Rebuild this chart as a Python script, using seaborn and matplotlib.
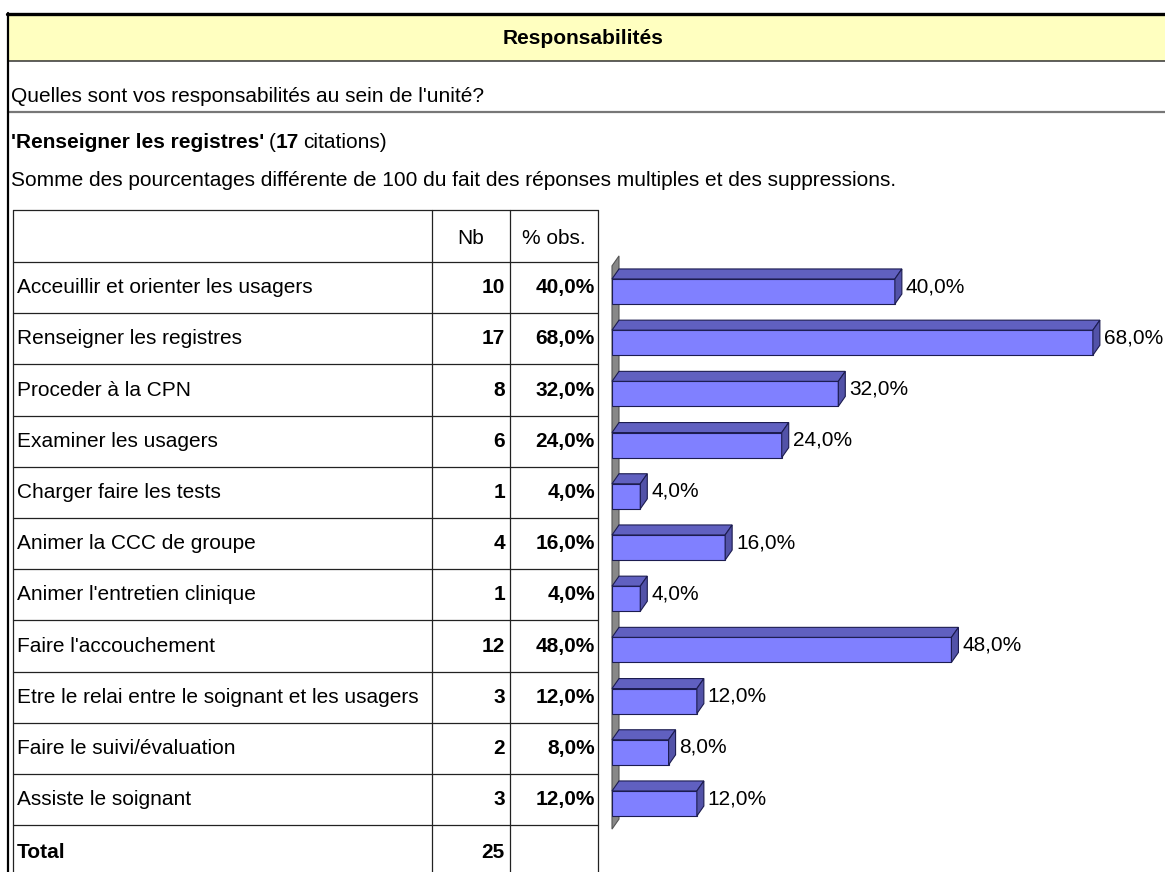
import matplotlib
matplotlib.use('Agg')
import matplotlib.pyplot as plt
import seaborn as sns
import numpy as np
from matplotlib.patches import Polygon, Rectangle

# donnees
categories = ['Acceuillir et orienter les usagers', 'Renseigner les registres', 'Proceder à la CPN',
              'Examiner les usagers', 'Charger faire les tests', 'Animer la CCC de groupe',
              "Animer l'entretien clinique", "Faire l'accouchement",
              'Etre le relai entre le soignant et les usagers', 'Faire le suivi/évaluation',
              'Assiste le soignant']
nb = [10, 17, 8, 6, 1, 4, 1, 12, 3, 2, 3]
pct_obs = [40.0, 68.0, 32.0, 24.0, 4.0, 16.0, 4.0, 48.0, 12.0, 8.0, 12.0]
total = 25
citations = 17
titre = 'Responsabilités'
question = "Quelles sont vos responsabilités au sein de l'unité?"
modalite = "'Renseigner les registres'"
note = 'Somme des pourcentages différente de 100 du fait des réponses multiples et des suppressions.'


def fmt(p):
    return f'{p:.1f}%'.replace('.', ',')


sns.set_style('white')
plt.rcParams['font.family'] = ['Liberation Sans Narrow', 'Liberation Sans', 'DejaVu Sans']
plt.rcParams['text.color'] = 'black'
fs = 15

W, H = 1165, 872
fig = plt.figure(figsize=(W / 100, H / 100), dpi=100)

# cadre en coordonnees pixel
fr = fig.add_axes([0, 0, 1, 1])
fr.set_xlim(0, W)
fr.set_ylim(H, 0)
fr.axis('off')

fr.add_patch(Rectangle((8, 15), W - 8, 46, facecolor='#FFFFC0', edgecolor='none'))
fr.plot([7, W], [14.5, 14.5], color='black', lw=2.4)
fr.plot([8, W], [61, 61], color='#333333', lw=1.1)
fr.plot([8, W], [112.5, 112.5], color='#777777', lw=1.6)
fr.plot([8, 8], [13, H], color='black', lw=1.6)

fr.text(583, 38, titre, ha='center', va='center', fontsize=fs, fontweight='bold')
fr.text(11, 97, question, ha='left', va='center', fontsize=fs)

# ligne des citations
fig.canvas.draw()
rend = fig.canvas.get_renderer()
x = 11
for txt, w, gap in [(modalite, 'bold', 4), ('(', 'normal', 0.5), (str(citations), 'bold', 4.5),
                    ('citations)', 'normal', 0)]:
    t = fr.text(x, 143, txt, ha='left', va='center', fontsize=fs, fontweight=w)
    x += t.get_window_extent(rend).width + gap
fr.text(11, 181, note, ha='left', va='center', fontsize=fs)

# tableau
row_h = 51.2
top_tab, top_rows = 210, 262
xs = [13, 432, 510, 598]
ys = [top_tab] + [top_rows + row_h * k for k in range(len(categories) + 1)]
for y in ys:
    fr.plot([xs[0], xs[-1]], [y, y], color='#222222', lw=0.9)
for xv in xs:
    fr.plot([xv, xv], [top_tab, H], color='#222222', lw=0.9)

fr.text(471, 238, 'Nb', ha='center', va='center', fontsize=fs)
fr.text(554, 238, '% obs.', ha='center', va='center', fontsize=fs)
for i, (c, n, p) in enumerate(zip(categories, nb, pct_obs)):
    yc = top_rows + row_h * (i + 0.5)
    fr.text(17, yc, c, ha='left', va='center', fontsize=fs)
    fr.text(505, yc, str(n), ha='right', va='center', fontsize=fs, fontweight='bold')
    fr.text(595, yc, fmt(p), ha='right', va='center', fontsize=fs, fontweight='bold')
yt = top_rows + row_h * len(categories) + 27
fr.text(17, yt, 'Total', ha='left', va='center', fontsize=fs, fontweight='bold')
fr.text(505, yt, str(total), ha='right', va='center', fontsize=fs, fontweight='bold')

# graphique en barres
x0_px = 612
yc0 = 291.5
ax_top = yc0 - row_h / 2
ax_bot = yc0 + row_h * (len(categories) - 0.5)
ax = fig.add_axes([x0_px / W, 1 - ax_bot / H, (W - x0_px) / W, (ax_bot - ax_top) / H])
sns.barplot(x=pct_obs, y=categories, orient='h', color='#8080FF', saturation=1,
            width=0.49, edgecolor='#1c1c50', linewidth=0.8, ax=ax, zorder=3)
xmax = 78.2
ax.set_xlim(0, xmax)
ax.set_ylim(len(categories) - 0.5, -0.5)
ax.axis('off')

px_x = (W - x0_px) / xmax
px_y = (ax_bot - ax_top) / len(categories)
dx = 7 / px_x
dy = 10 / px_y

n = len(categories)
ax.add_patch(Polygon([(0, n - 0.5), (0, -0.5), (dx, -0.5 - dy), (dx, n - 0.5 - dy)],
                     closed=True, facecolor='#888888', edgecolor='#555555', lw=0.8,
                     clip_on=False, zorder=1))

for bar, p in zip(ax.patches[:n], pct_obs):
    bx, by = bar.get_x(), bar.get_y()
    bw, bh = bar.get_width(), bar.get_height()
    top = [(bx, by), (bx + dx, by - dy), (bx + bw + dx, by - dy), (bx + bw, by)]
    side = [(bx + bw, by), (bx + bw + dx, by - dy), (bx + bw + dx, by + bh - dy), (bx + bw, by + bh)]
    ax.add_patch(Polygon(top, closed=True, facecolor='#6060C0', edgecolor='#1c1c50',
                         lw=0.8, clip_on=False, zorder=4))
    ax.add_patch(Polygon(side, closed=True, facecolor='#5252A8', edgecolor='#1c1c50',
                         lw=0.8, clip_on=False, zorder=4))
    ax.text(bx + bw + dx + 4 / px_x, by + bh / 2 - dy / 2, fmt(p), ha='left', va='center',
            fontsize=fs, clip_on=False)

fig.savefig('out.png', dpi=100)
